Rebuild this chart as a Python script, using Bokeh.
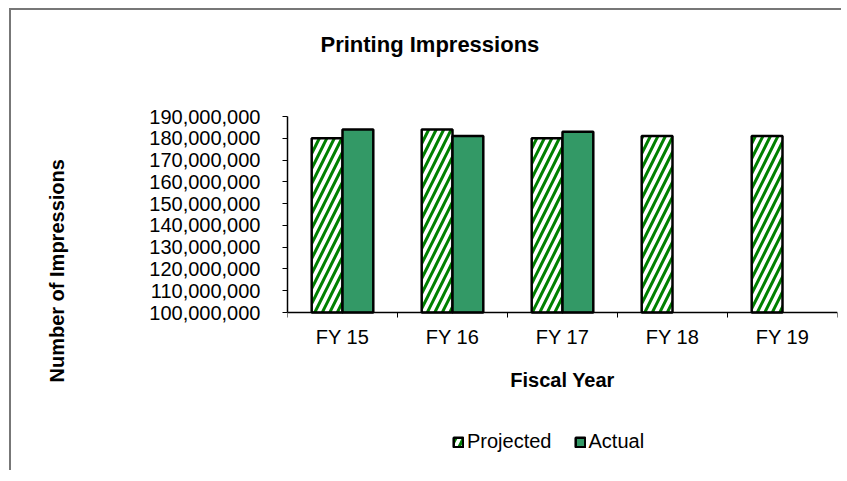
import numpy as np
from bokeh.plotting import figure
from bokeh.models import (Range1d, FixedTicker, NumeralTickFormatter, Legend,
                          LegendItem, Title, ColumnDataSource)
from bokeh.transform import dodge
from bokeh.embed import file_html
from bokeh.resources import INLINE

categories = ["FY 15", "FY 16", "FY 17", "FY 18", "FY 19"]
projected = [180_000_000, 184_000_000, 180_000_000, 181_000_000, 181_000_000]
actual = [184_000_000, 181_000_000, 183_000_000, np.nan, np.nan]
y_ticks = list(range(100_000_000, 190_000_001, 10_000_000))

centers = [i + 0.5 for i in range(len(categories))]
bounds = list(range(len(categories) + 1))
y_min, y_max = y_ticks[0], y_ticks[-1]

FONT = "Liberation Sans"

# layout: the value axis occupies the top 196px of a 354px-tall frame;
# the lower part of the frame holds axis labels and the legend
AXIS_PX, FRAME_PX = 196, 354
y_start = y_max - (y_max - y_min) * FRAME_PX / AXIS_PX

p = figure(frame_width=550, frame_height=FRAME_PX,
           output_backend="svg", toolbar_location=None,
           x_range=Range1d(0, len(categories)),
           y_range=Range1d(y_start, y_max),
           min_border_left=276, min_border_right=4,
           min_border_top=106, min_border_bottom=0)
p.styles = {"border-top": "2px solid #777777", "border-left": "2px solid #777777",
            "margin-left": "9px", "margin-top": "8px"}

src = ColumnDataSource(dict(x=centers, projected=projected, actual=actual,
                            base=[y_min] * len(categories)))

r_proj = p.vbar(x=dodge("x", -0.14, range=p.x_range), top="projected", bottom="base",
                width=0.28, source=src, fill_color="white", line_color="black",
                line_width=2.5, hatch_pattern="/", hatch_color="#008000",
                hatch_weight=3, hatch_scale=15)
r_act = p.vbar(x=dodge("x", 0.14, range=p.x_range), top="actual", bottom="base",
               width=0.28, source=src, fill_color="#339966", line_color="black",
               line_width=2.5)

p.grid.visible = False
p.outline_line_color = None
p.background_fill_color = "white"
p.border_fill_color = "white"

# main title (outer) + spacer (inner, next to the frame)
p.title.text = "Printing Impressions"
p.title.text_font = FONT
p.title.text_font_size = "22px"
p.title.text_font_style = "bold"
p.title.text_color = "black"
p.title.align = "left"
p.title.offset = 33
p.title.standoff = 0

top_spacer = Title(text=" ", text_font_size="1px", standoff=57)
p.add_layout(top_spacer, "above")

# x axis drawn at the 100,000,000 baseline
xa = p.xaxis[0]
xa.fixed_location = y_min
xa.ticker = FixedTicker(ticks=centers, minor_ticks=bounds)
xa.major_label_overrides = {c: lab for c, lab in zip(centers, categories)}
xa.major_tick_out = 0
xa.major_tick_in = 0
xa.minor_tick_out = 5
xa.minor_tick_in = 0
xa.minor_tick_line_color = "black"
xa.axis_line_color = "black"
xa.axis_line_width = 1.5
xa.major_label_text_font = FONT
xa.major_label_text_font_size = "20px"
xa.major_label_text_color = "black"
xa.major_label_standoff = 8
xa.axis_label = "Fiscal Year"
xa.axis_label_text_font = FONT
xa.axis_label_text_font_size = "20px"
xa.axis_label_text_font_style = "bold"
xa.axis_label_text_color = "black"
xa.axis_label_standoff = 18

# y axis
ya = p.yaxis[0]
ya.bounds = (y_min, y_max)
ya.ticker = FixedTicker(ticks=y_ticks, minor_ticks=[])
ya.formatter = NumeralTickFormatter(format="0,0")
ya.major_tick_out = 5
ya.major_tick_in = 0
ya.major_tick_line_color = "black"
ya.minor_tick_line_color = None
ya.axis_line_color = "black"
ya.axis_line_width = 1.5
ya.major_label_text_font = FONT
ya.major_label_text_font_size = "20px"
ya.major_label_text_color = "black"
ya.major_label_standoff = 22

left_spacer = Title(text=" ", text_font_size="1px", standoff=76)
p.add_layout(left_spacer, "left")
ylab = Title(text="Number of Impressions", align="left",
             offset=(FRAME_PX - AXIS_PX) - 70,
             standoff=0, text_font=FONT, text_font_size="20px",
             text_font_style="bold", text_color="black")
p.add_layout(ylab, "left")

legend = Legend(items=[LegendItem(label="Projected", renderers=[r_proj]),
                       LegendItem(label="Actual", renderers=[r_act])],
                orientation="horizontal", location=(165, 17),
                glyph_width=12, glyph_height=12, label_standoff=3, spacing=22,
                padding=0, margin=0, border_line_color=None,
                background_fill_alpha=0,
                label_text_font=FONT, label_text_font_size="20px",
                label_text_color="black")
p.add_layout(legend, "center")

open("out.html", "w").write(file_html(p, INLINE))
